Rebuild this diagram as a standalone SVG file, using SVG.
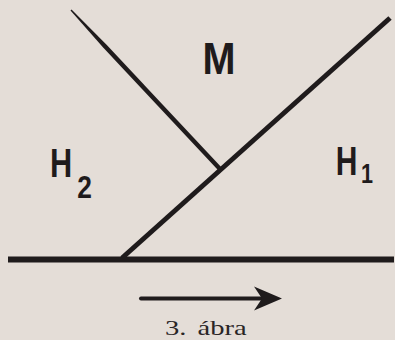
<svg xmlns="http://www.w3.org/2000/svg" width="395" height="340" viewBox="0 0 395 340">
<style>
.ink{fill:#1f1b1c}
.ln{stroke:#1f1b1c;fill:none}
.lbl{font-family:"Liberation Sans",Arial,sans-serif;font-weight:bold;fill:#1f1b1c}
.cap{font-family:"Liberation Serif","Times New Roman",serif;fill:#2a2526}
</style>
<rect width="395" height="340" fill="#e4ddd7"/>
<g id="connectors">
<line class="ln" x1="8" y1="259.5" x2="394" y2="259.5" stroke-width="6"/>
<line class="ln" x1="122" y1="258" x2="390" y2="18" stroke-width="5"/>
<polygon class="ink" points="71.5,9.5 106.8,45 221.6,167.5 218.4,170.5 103.6,48 70.5,10.5"/>
<line class="ln" x1="141" y1="298.5" x2="262" y2="298.5" stroke-width="4" stroke-linecap="round"/>
<polygon class="ink" points="282,298.5 254,286.5 262,298.5 254,310.5"/>
</g>
<g id="M">
<text class="lbl" font-size="45" text-anchor="middle" transform="translate(219,74) scale(0.88,1)">M</text>
</g>
<g id="H2">
<text class="lbl" font-size="41" text-anchor="middle" transform="translate(61,177) scale(0.75,1)">H</text>
<text class="lbl" font-size="31" text-anchor="middle" transform="translate(84.5,198) scale(0.85,1)">2</text>
</g>
<g id="H1">
<text class="lbl" font-size="40" text-anchor="middle" transform="translate(346.5,175) scale(0.75,1)">H</text>
<text class="lbl" font-size="27" text-anchor="middle" transform="translate(367,183) scale(0.8,1)">1</text>
</g>
<g id="caption">
<text class="cap" font-size="22" transform="translate(165,335) scale(1.3,1)">3.<tspan dx="3"> ábra</tspan></text>
</g>
</svg>
